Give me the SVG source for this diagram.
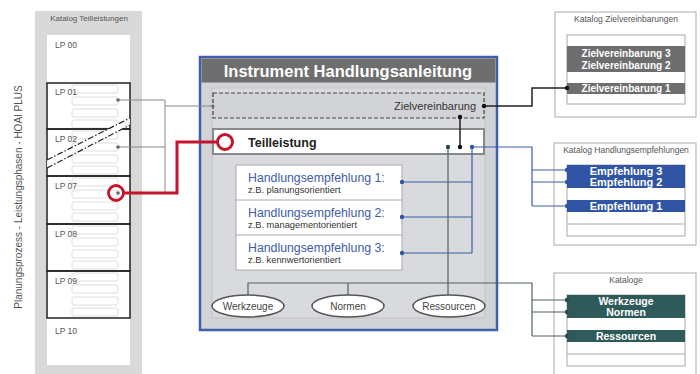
<svg xmlns="http://www.w3.org/2000/svg" width="700" height="374" viewBox="0 0 700 374">
  <style>
    text { font-family: "Liberation Sans", Arial, sans-serif; }
    .lp { font-size: 8.5px; fill: #555; }
    .row { fill: #fff; stroke: #d6d6d6; stroke-width: 0.8; }
    .lpbox { fill: none; stroke: #222; stroke-width: 1.5; }
    .cattitle { font-size: 8.5px; fill: #555; text-anchor: middle; }
    .catbox { fill: #fff; stroke: #b8b8b8; stroke-width: 1.2; }
    .inner { fill: #fff; stroke: #a8a8a8; stroke-width: 1; }
    .bartext { font-size: 11px; font-weight: bold; fill: #fff; text-anchor: middle; }
    .bartext.zv { font-size: 10px; }
    .bartext.kat { font-size: 10.5px; }
    .he { font-size: 12.3px; fill: #3d5ca8; }
    .hesub { font-size: 9.3px; fill: #333; }
    .ell { fill: #fff; stroke: #555; stroke-width: 1.5; }
    .elltext { font-size: 10px; fill: #444; text-anchor: middle; }
    .gray { fill: none; stroke: #888; stroke-width: 1; }
    .teal { fill: none; stroke: #4d6464; stroke-width: 1.2; }
    .blue { fill: none; stroke: #3d5ca8; stroke-width: 1.2; }
    .black { fill: none; stroke: #222; stroke-width: 1.5; }
    .red { fill: none; stroke: #c4142b; stroke-width: 3; }
  </style>

  <!-- vertical process label -->
  <text x="22" y="197" transform="rotate(-90 22 197)" font-size="10" fill="#555" text-anchor="middle">Planungsprozess - Leistungsphasen - HOAI PLUS</text>

  <!-- catalogue of partial services (left column) -->
  <g id="katalog-teilleistungen">
    <rect x="35" y="11" width="107" height="370" fill="#d9d9d9"/>
    <text x="89" y="21" font-size="8" fill="#555" text-anchor="middle">Katalog Teilleistungen</text>
    <rect x="47" y="35" width="83" height="330" fill="#fff"/>
    <text class="lp" x="55" y="48">LP 00</text>
    <text class="lp" x="55" y="334">LP 10</text>
  </g>

  <g id="lp01">
    <rect class="row" x="72" y="85" width="46" height="8" rx="2"/>
    <rect class="row" x="72" y="97" width="46" height="8" rx="2"/>
    <rect class="row" x="72" y="109" width="46" height="8" rx="2"/>
    <rect class="row" x="72" y="120" width="46" height="8" rx="2"/>
    <text class="lp" x="55" y="95">LP 01</text>
    <rect class="lpbox" x="47" y="83" width="83" height="46"/>
  </g>
  <g id="lp02">
    <rect class="row" x="72" y="131" width="46" height="8" rx="2"/>
    <rect class="row" x="72" y="143" width="46" height="8" rx="2"/>
    <rect class="row" x="72" y="155" width="46" height="8" rx="2"/>
    <rect class="row" x="72" y="166" width="46" height="8" rx="2"/>
    <text class="lp" x="55" y="142">LP 02</text>
    <rect class="lpbox" x="47" y="129" width="83" height="47"/>
  </g>
  <!-- gap marker between LP 02 and LP 07 -->
  <g id="break-mark">
    <polygon points="47,160 130,118 130,125 47,168" fill="#fff"/>
    <line x1="47" y1="160" x2="130" y2="118" stroke="#222" stroke-width="1.2" stroke-dasharray="6,2,1.5,2"/>
    <line x1="47" y1="168" x2="130" y2="125" stroke="#222" stroke-width="1.2" stroke-dasharray="6,2,1.5,2"/>
  </g>
  <g id="lp07">
    <rect class="row" x="72" y="178" width="46" height="8" rx="2"/>
    <rect class="row" x="72" y="190" width="46" height="8" rx="2"/>
    <rect class="row" x="72" y="202" width="46" height="8" rx="2"/>
    <rect class="row" x="72" y="213" width="46" height="8" rx="2"/>
    <text class="lp" x="55" y="189">LP 07</text>
    <rect class="lpbox" x="47" y="176" width="83" height="48"/>
  </g>
  <g id="lp08">
    <rect class="row" x="72" y="226" width="46" height="8" rx="2"/>
    <rect class="row" x="72" y="238" width="46" height="8" rx="2"/>
    <rect class="row" x="72" y="250" width="46" height="8" rx="2"/>
    <rect class="row" x="72" y="261" width="46" height="8" rx="2"/>
    <text class="lp" x="55" y="237">LP 08</text>
    <rect class="lpbox" x="47" y="224" width="83" height="47"/>
  </g>
  <g id="lp09">
    <rect class="row" x="72" y="273" width="46" height="8" rx="2"/>
    <rect class="row" x="72" y="285" width="46" height="8" rx="2"/>
    <rect class="row" x="72" y="297" width="46" height="8" rx="2"/>
    <rect class="row" x="72" y="308" width="46" height="8" rx="2"/>
    <text class="lp" x="55" y="284">LP 09</text>
    <rect class="lpbox" x="47" y="271" width="83" height="47"/>
  </g>

  <!-- instrument panel -->
  <g id="instrument">
    <rect x="200" y="57" width="297" height="273" fill="#d2d3d7" stroke="#3f5fae" stroke-width="2.5"/>
    <rect x="201.5" y="58.5" width="294" height="24" fill="#6e6e6e"/>
    <text x="348" y="77" font-size="16.5" font-weight="bold" fill="#fff" text-anchor="middle">Instrument Handlungsanleitung</text>
    <rect x="212" y="88" width="273" height="230" fill="#d9dadd" stroke="#c2c3c7" stroke-width="1"/>
  </g>

  <g id="zielvereinbarung">
    <rect x="213" y="93" width="271" height="25" fill="#d2d3d7" stroke="#444" stroke-width="1.2" stroke-dasharray="4,2"/>
    <text x="476" y="110" font-size="11" fill="#333" text-anchor="end">Zielvereinbarung</text>
  </g>

  <g id="teilleistung">
    <rect x="213" y="129" width="271" height="25" fill="#fff" stroke="#8a8a8a" stroke-width="2"/>
    <text x="248" y="147" font-size="12.5" font-weight="bold" fill="#222">Teilleistung</text>
  </g>

  <g id="handlungsempfehlungen">
    <rect x="236" y="165" width="166" height="105" fill="#fff" stroke="#aaa" stroke-width="1"/>
    <line x1="236" y1="200" x2="402" y2="200" stroke="#aaa"/>
    <line x1="236" y1="235" x2="402" y2="235" stroke="#aaa"/>
    <text class="he" x="248" y="182">Handlungsempfehlung 1:</text>
    <text class="hesub" x="248" y="193">z.B. planungsorientiert</text>
    <text class="he" x="248" y="217">Handlungsempfehlung 2:</text>
    <text class="hesub" x="248" y="228">z.B. managementorientiert</text>
    <text class="he" x="248" y="252">Handlungsempfehlung 3:</text>
    <text class="hesub" x="248" y="263">z.B. kennwertorientiert</text>
  </g>

  <g id="werkzeuge">
    <ellipse class="ell" cx="248" cy="306" rx="36" ry="11"/>
    <text class="elltext" x="248" y="310">Werkzeuge</text>
  </g>
  <g id="normen">
    <ellipse class="ell" cx="348" cy="306" rx="36" ry="11"/>
    <text class="elltext" x="348" y="310">Normen</text>
  </g>
  <g id="ressourcen">
    <ellipse class="ell" cx="449" cy="306" rx="36" ry="11"/>
    <text class="elltext" x="449" y="310">Ressourcen</text>
  </g>

  <!-- right-hand catalogues -->
  <g id="katalog-zielvereinbarungen">
    <rect class="catbox" x="555" y="12" width="141" height="105"/>
    <text class="cattitle" x="626" y="22">Katalog Zielvereinbarungen</text>
    <rect class="inner" x="567" y="35" width="118" height="69"/>
    <rect x="567" y="46" width="118" height="26" fill="#6e6e6e"/>
    <rect x="567" y="83" width="118" height="11" fill="#6e6e6e"/>
    <text class="bartext zv" x="626" y="57">Zielvereinbarung 3</text>
    <text class="bartext zv" x="626" y="69">Zielvereinbarung 2</text>
    <text class="bartext zv" x="626" y="92">Zielvereinbarung 1</text>
  </g>

  <g id="katalog-handlungsempfehlungen">
    <rect class="catbox" x="554" y="143" width="142" height="102"/>
    <text class="cattitle" x="626" y="153">Katalog Handlungsempfehlungen</text>
    <rect class="inner" x="567" y="165" width="118" height="71"/>
    <line x1="567" y1="224" x2="685" y2="224" stroke="#a8a8a8"/>
    <rect x="567" y="165" width="118" height="23" fill="#2f55a4"/>
    <rect x="567" y="200" width="118" height="12" fill="#2f55a4"/>
    <text class="bartext" x="626" y="175">Empfehlung 3</text>
    <text class="bartext" x="626" y="186">Empfehlung 2</text>
    <text class="bartext" x="626" y="210">Empfehlung 1</text>
  </g>

  <g id="kataloge">
    <rect class="catbox" x="554" y="273" width="142" height="110"/>
    <text class="cattitle" x="626" y="283">Kataloge</text>
    <rect class="inner" x="567" y="295" width="118" height="71"/>
    <line x1="567" y1="354" x2="685" y2="354" stroke="#a8a8a8"/>
    <rect x="567" y="295" width="118" height="23" fill="#2e5b5a"/>
    <rect x="567" y="330" width="118" height="12" fill="#2e5b5a"/>
    <text class="bartext kat" x="626" y="305">Werkzeuge</text>
    <text class="bartext kat" x="626" y="316">Normen</text>
    <text class="bartext kat" x="626" y="340">Ressourcen</text>
  </g>

  <!-- connectors -->
  <g id="connectors">
    <!-- LP 01 / LP 02 to the goal agreement -->
    <polyline class="gray" points="118,100 165,100"/>
    <polyline class="gray" points="118,147 165,147"/>
    <line class="gray" x1="165" y1="100" x2="165" y2="193"/>
    <polyline class="gray" points="165,106 213,106"/>

    <!-- LP 07 to Teilleistung -->
    <polyline class="red" points="124,193 177,193 177,142 217,142"/>
    <circle cx="116" cy="193" r="7.5" fill="none" stroke="#c4142b" stroke-width="2.8"/>
    <circle cx="225" cy="142" r="7.5" fill="#fff" stroke="#c4142b" stroke-width="3"/>

    <!-- goal agreement -->
    <polyline class="black" points="484,106 532,106 532,88 567,88"/>
    <line class="black" x1="460" y1="117" x2="460" y2="147"/>

    <!-- recommendations -->
    <polyline class="blue" points="402,182 472,182"/>
    <polyline class="blue" points="402,217 472,217"/>
    <polyline class="blue" points="402,253 472,253"/>
    <polyline class="blue" points="472,253 472,147 532,147 532,206"/>
    <polyline class="blue" points="532,170 567,170"/>
    <polyline class="blue" points="532,182 567,182"/>
    <polyline class="blue" points="532,206 567,206"/>

    <!-- tools, norms, resources -->
    <line class="teal" x1="448" y1="147" x2="448" y2="295"/>
    <polyline class="teal" points="248,295 248,283 532,283 532,336"/>
    <line class="teal" x1="348" y1="283" x2="348" y2="295"/>
    <polyline class="teal" points="532,300 567,300"/>
    <polyline class="teal" points="532,312 567,312"/>
    <polyline class="teal" points="532,336 567,336"/>

    <!-- junction dots -->
    <g fill="#666">
      <circle cx="118" cy="100" r="1.8"/>
      <circle cx="118" cy="147" r="1.8"/>
      <circle cx="118" cy="193" r="1.8"/>
      <circle cx="213" cy="106" r="1.5"/>
    </g>
    <g fill="#111">
      <circle cx="484" cy="106" r="2.2"/>
      <circle cx="567" cy="88" r="2.2"/>
      <circle cx="460" cy="117" r="2.2"/>
      <circle cx="460" cy="147" r="2.2"/>
    </g>
    <g fill="#2f55a4">
      <circle cx="472" cy="147" r="2.2"/>
      <circle cx="402" cy="182" r="2.2"/>
      <circle cx="402" cy="217" r="2.2"/>
      <circle cx="402" cy="253" r="2.2"/>
      <circle cx="567" cy="170" r="2.2"/>
      <circle cx="567" cy="182" r="2.2"/>
      <circle cx="567" cy="206" r="2.2"/>
    </g>
    <g fill="#2e4a4a">
      <circle cx="448" cy="147" r="2.2"/>
      <circle cx="567" cy="300" r="2.2"/>
      <circle cx="567" cy="312" r="2.2"/>
      <circle cx="567" cy="336" r="2.2"/>
    </g>
  </g>
</svg>
